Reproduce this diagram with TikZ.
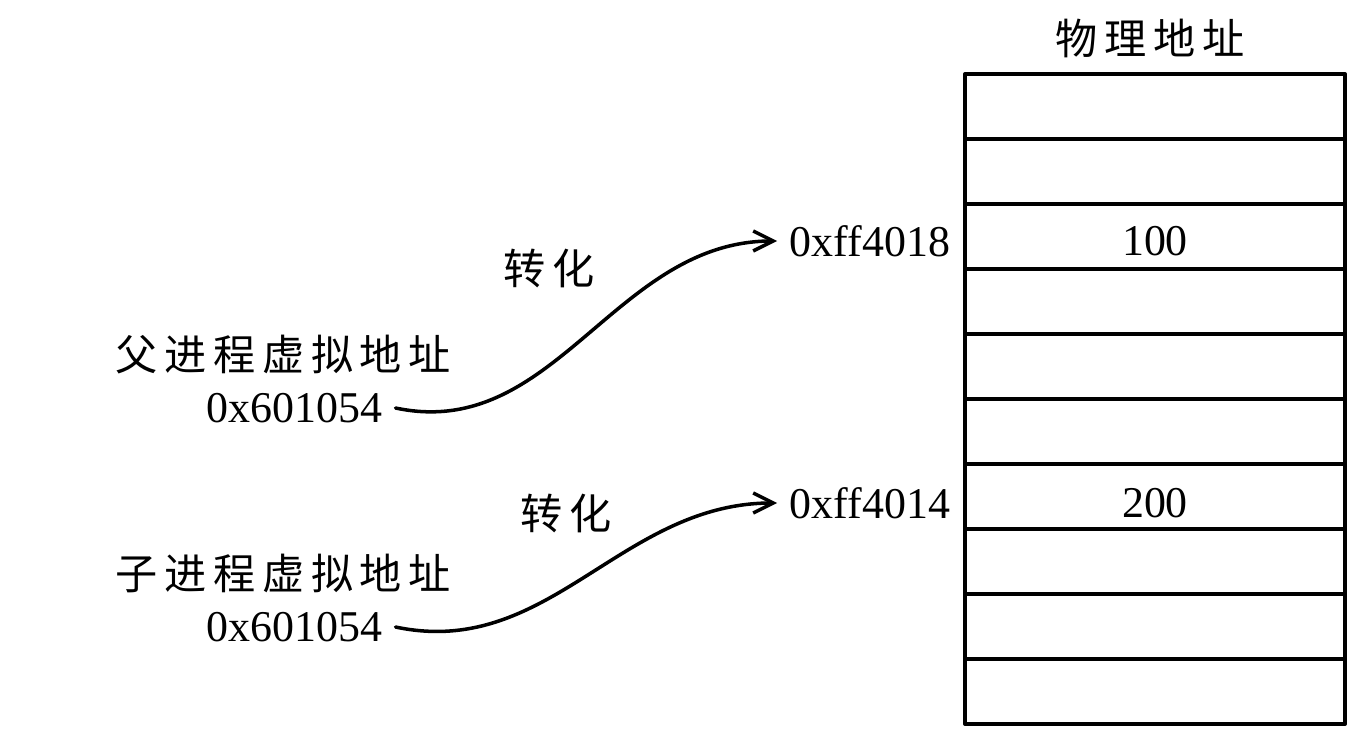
\documentclass[tikz,border=0pt]{standalone}
\usepackage{fontspec}
\setmainfont{Liberation Serif}
\newfontfamily\cjk[LetterSpace=16]{Noto Sans CJK SC}
\usetikzlibrary{arrows.meta,positioning}

\begin{document}
\begin{tikzpicture}[
  x=1cm,
  y=1cm,
  line cap=round,
  line join=round,
  cell/.style={draw, line width=2.2pt, minimum width=7.6cm,
    minimum height=1.3cm, inner sep=0pt},
  num/.style={inner sep=0pt, font=\fontsize{25}{30}\selectfont},
  addr/.style={inner xsep=0.25cm, inner ysep=0pt,
    font=\fontsize{25}{30}\selectfont},
  zh/.style={inner sep=0pt, font=\cjk\fontsize{24}{28}\selectfont},
  conv/.style={line width=2pt, -{Straight Barb[length=0.4cm,width=0.4cm]}}
]

% Page frame
\useasboundingbox (0,0) rectangle (27.22,14.72);

% Physical memory, ten rows
\foreach \i in {1,...,10}{
  \node[cell] (m\i) at (23.10,13.24-1.3*\i+0.65) {};
}
\node[num, yshift=-0.1cm] (d1) at (m3) {100};
\node[num, yshift=-0.13cm] (d2) at (m7) {200};

% Title over the memory
\node[zh, anchor=west] (title) at (21.10,13.96) {物理地址};

% Physical addresses
\node[addr, left=0cm of m3, yshift=-0.09cm] (p1) {0xff4018};
\node[addr, left=0cm of m7, yshift=-0.13cm] (p2) {0xff4014};

% Parent process
\node[zh, anchor=west] (parent) at (2.30,7.62) {父进程虚拟地址};
\node[addr, anchor=east] (v1) at (7.91,6.56) {0x601054};

% Child process
\node[zh, anchor=west] (child) at (2.30,3.26) {子进程虚拟地址};
\node[addr, anchor=east] (v2) at (7.91,2.18) {0x601054};

% Translation arrows
\draw[conv] (v1.east) to[out=-12,in=180] (p1.west);
\draw[conv] (v2.east) to[out=-12,in=180] (p2.west);
\node[zh, anchor=west] (t1) at (10.06,9.36) {转化};
\node[zh, anchor=west] (t2) at (10.40,4.46) {转化};

\end{tikzpicture}
\end{document}
